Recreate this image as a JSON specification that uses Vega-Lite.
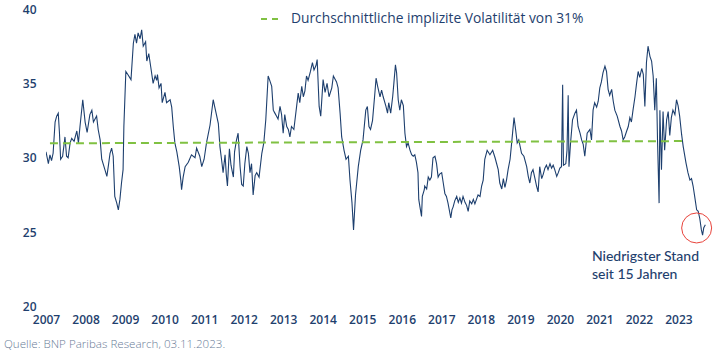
{
  "$schema": "https://vega.github.io/schema/vega-lite/v6.json",
  "width": 672,
  "height": 297.5,
  "autosize": {"type": "none"},
  "padding": {"left": 46, "top": 9, "right": 9, "bottom": 47.5},
  "background": "white",
  "config": {
    "view": {"stroke": null},
    "font": "Open Sans",
    "axis": {"grid": false, "domain": false, "ticks": false, "labelFont": "Open Sans", "labelFontSize": 12, "labelFontWeight": 600, "labelColor": "#1f3f6e", "title": null}
  },
  "title": {"text": "Quelle: BNP Paribas Research, 03.11.2023.", "orient": "bottom", "anchor": "start", "frame": "group", "dx": -42, "offset": 13, "fontSize": 11.6, "fontWeight": 300, "color": "#6a7d98", "font": "Open Sans"},
  "datasets": {
    "vol": [
      {"t":2007.00,"v":30.4},{"t":2007.06,"v":29.6},{"t":2007.10,"v":30.2},{"t":2007.14,"v":29.8},{"t":2007.18,"v":30.3},{"t":2007.23,"v":32.4},{"t":2007.27,"v":32.8},{"t":2007.31,"v":33.0},{"t":2007.34,"v":31.7},{"t":2007.37,"v":29.9},
      {"t":2007.42,"v":30.1},{"t":2007.48,"v":31.4},{"t":2007.52,"v":30.1},{"t":2007.56,"v":30.0},{"t":2007.61,"v":31.0},{"t":2007.65,"v":31.3},{"t":2007.71,"v":31.1},{"t":2007.78,"v":31.8},{"t":2007.82,"v":31.0},{"t":2007.86,"v":32.1},
      {"t":2007.93,"v":33.9},{"t":2007.99,"v":32.4},{"t":2008.04,"v":31.7},{"t":2008.11,"v":32.9},{"t":2008.16,"v":33.2},{"t":2008.20,"v":32.4},{"t":2008.28,"v":32.8},{"t":2008.32,"v":31.9},{"t":2008.37,"v":31.2},{"t":2008.41,"v":29.9},
      {"t":2008.49,"v":29.2},{"t":2008.54,"v":28.75},{"t":2008.58,"v":29.5},{"t":2008.62,"v":30.3},{"t":2008.66,"v":30.65},{"t":2008.70,"v":30.1},{"t":2008.74,"v":27.4},{"t":2008.79,"v":26.95},{"t":2008.83,"v":26.5},{"t":2008.87,"v":27.2},
      {"t":2008.91,"v":28.3},{"t":2008.95,"v":29.2},{"t":2008.97,"v":32.1},{"t":2009.02,"v":35.8},{"t":2009.07,"v":35.6},{"t":2009.15,"v":35.25},{"t":2009.21,"v":37.7},{"t":2009.25,"v":38.3},{"t":2009.29,"v":37.7},{"t":2009.33,"v":38.4},
      {"t":2009.38,"v":38.0},{"t":2009.42,"v":38.6},{"t":2009.46,"v":37.5},{"t":2009.52,"v":37.8},{"t":2009.55,"v":36.5},{"t":2009.60,"v":37.0},{"t":2009.65,"v":36.1},{"t":2009.71,"v":35.0},{"t":2009.76,"v":35.5},{"t":2009.80,"v":35.2},
      {"t":2009.82,"v":35.6},{"t":2009.86,"v":34.7},{"t":2009.91,"v":35.0},{"t":2009.94,"v":33.7},{"t":2010.01,"v":34.4},{"t":2010.05,"v":33.7},{"t":2010.14,"v":33.9},{"t":2010.18,"v":33.4},{"t":2010.22,"v":32.1},{"t":2010.26,"v":31.0},
      {"t":2010.31,"v":30.4},{"t":2010.37,"v":29.4},{"t":2010.41,"v":28.5},{"t":2010.43,"v":27.85},{"t":2010.47,"v":28.7},{"t":2010.52,"v":29.4},{"t":2010.60,"v":29.7},{"t":2010.68,"v":30.2},{"t":2010.77,"v":30.0},{"t":2010.81,"v":30.65},
      {"t":2010.89,"v":30.1},{"t":2010.94,"v":29.4},{"t":2011.00,"v":29.9},{"t":2011.06,"v":31.0},{"t":2011.15,"v":32.2},{"t":2011.23,"v":33.9},{"t":2011.27,"v":33.4},{"t":2011.36,"v":32.3},{"t":2011.40,"v":30.75},{"t":2011.44,"v":29.9},
      {"t":2011.48,"v":29.0},{"t":2011.53,"v":30.2},{"t":2011.56,"v":28.9},{"t":2011.59,"v":28.1},{"t":2011.64,"v":30.6},{"t":2011.68,"v":29.5},{"t":2011.74,"v":28.7},{"t":2011.77,"v":30.4},{"t":2011.82,"v":31.2},{"t":2011.86,"v":31.65},
      {"t":2011.91,"v":29.4},{"t":2011.95,"v":28.2},{"t":2011.99,"v":28.1},{"t":2012.03,"v":29.6},{"t":2012.08,"v":30.75},{"t":2012.12,"v":30.3},{"t":2012.16,"v":29.0},{"t":2012.20,"v":29.6},{"t":2012.24,"v":27.5},{"t":2012.29,"v":28.8},
      {"t":2012.33,"v":29.0},{"t":2012.39,"v":28.7},{"t":2012.46,"v":30.3},{"t":2012.51,"v":31.0},{"t":2012.56,"v":32.55},{"t":2012.62,"v":35.5},{"t":2012.66,"v":35.2},{"t":2012.71,"v":34.8},{"t":2012.75,"v":33.2},{"t":2012.79,"v":33.0},
      {"t":2012.83,"v":32.8},{"t":2012.87,"v":32.6},{"t":2012.92,"v":33.45},{"t":2012.96,"v":32.9},{"t":2013.00,"v":31.65},{"t":2013.04,"v":32.9},{"t":2013.09,"v":32.1},{"t":2013.13,"v":31.9},{"t":2013.17,"v":31.4},{"t":2013.21,"v":32.1},
      {"t":2013.27,"v":31.9},{"t":2013.34,"v":33.45},{"t":2013.38,"v":34.35},{"t":2013.42,"v":33.7},{"t":2013.47,"v":34.8},{"t":2013.51,"v":34.1},{"t":2013.55,"v":34.5},{"t":2013.59,"v":35.5},{"t":2013.63,"v":35.2},{"t":2013.69,"v":35.8},
      {"t":2013.74,"v":36.4},{"t":2013.78,"v":35.9},{"t":2013.83,"v":36.2},{"t":2013.86,"v":36.6},{"t":2013.91,"v":33.45},{"t":2013.95,"v":32.8},{"t":2014.01,"v":35.25},{"t":2014.06,"v":34.4},{"t":2014.11,"v":35.0},{"t":2014.16,"v":34.1},
      {"t":2014.23,"v":34.7},{"t":2014.27,"v":35.5},{"t":2014.31,"v":35.3},{"t":2014.35,"v":35.1},{"t":2014.39,"v":34.7},{"t":2014.44,"v":33.0},{"t":2014.48,"v":31.4},{"t":2014.54,"v":30.5},{"t":2014.59,"v":29.9},{"t":2014.65,"v":30.1},
      {"t":2014.69,"v":28.5},{"t":2014.74,"v":27.0},{"t":2014.78,"v":25.15},{"t":2014.83,"v":27.5},{"t":2014.90,"v":29.4},{"t":2014.96,"v":30.5},{"t":2015.02,"v":31.2},{"t":2015.09,"v":33.2},{"t":2015.13,"v":33.45},{"t":2015.17,"v":32.1},
      {"t":2015.21,"v":31.9},{"t":2015.26,"v":32.5},{"t":2015.32,"v":34.35},{"t":2015.35,"v":35.35},{"t":2015.39,"v":34.8},{"t":2015.45,"v":34.1},{"t":2015.49,"v":34.55},{"t":2015.53,"v":34.1},{"t":2015.60,"v":33.45},{"t":2015.64,"v":33.0},
      {"t":2015.67,"v":33.7},{"t":2015.72,"v":33.0},{"t":2015.77,"v":34.1},{"t":2015.80,"v":35.0},{"t":2015.84,"v":36.25},{"t":2015.87,"v":35.7},{"t":2015.91,"v":33.9},{"t":2015.95,"v":33.2},{"t":2015.99,"v":33.9},{"t":2016.04,"v":33.5},
      {"t":2016.08,"v":31.65},{"t":2016.12,"v":30.75},{"t":2016.16,"v":31.0},{"t":2016.21,"v":30.5},{"t":2016.25,"v":30.2},{"t":2016.29,"v":30.1},{"t":2016.33,"v":30.2},{"t":2016.37,"v":29.7},{"t":2016.41,"v":29.0},{"t":2016.43,"v":27.2},
      {"t":2016.46,"v":26.7},{"t":2016.50,"v":26.05},{"t":2016.52,"v":27.4},{"t":2016.57,"v":27.85},{"t":2016.58,"v":28.1},{"t":2016.63,"v":27.9},{"t":2016.67,"v":28.7},{"t":2016.71,"v":28.5},{"t":2016.75,"v":28.7},{"t":2016.79,"v":30.0},
      {"t":2016.84,"v":30.1},{"t":2016.88,"v":29.6},{"t":2016.92,"v":28.7},{"t":2016.96,"v":28.9},{"t":2017.01,"v":29.0},{"t":2017.05,"v":28.3},{"t":2017.09,"v":27.6},{"t":2017.13,"v":27.4},{"t":2017.17,"v":26.95},{"t":2017.24,"v":25.95},
      {"t":2017.27,"v":26.5},{"t":2017.30,"v":26.7},{"t":2017.34,"v":27.1},{"t":2017.39,"v":27.4},{"t":2017.43,"v":27.0},{"t":2017.47,"v":27.3},{"t":2017.51,"v":26.95},{"t":2017.55,"v":27.4},{"t":2017.60,"v":27.0},{"t":2017.64,"v":26.8},
      {"t":2017.68,"v":26.4},{"t":2017.72,"v":27.1},{"t":2017.77,"v":26.9},{"t":2017.81,"v":27.2},{"t":2017.85,"v":26.9},{"t":2017.89,"v":27.2},{"t":2017.93,"v":27.5},{"t":2017.98,"v":27.4},{"t":2018.02,"v":28.1},{"t":2018.06,"v":28.5},
      {"t":2018.10,"v":29.9},{"t":2018.16,"v":30.5},{"t":2018.23,"v":30.2},{"t":2018.30,"v":30.5},{"t":2018.36,"v":30.0},{"t":2018.44,"v":29.2},{"t":2018.48,"v":28.3},{"t":2018.53,"v":27.9},{"t":2018.57,"v":28.6},{"t":2018.61,"v":28.0},
      {"t":2018.65,"v":28.5},{"t":2018.69,"v":29.2},{"t":2018.74,"v":29.9},{"t":2018.78,"v":31.0},{"t":2018.84,"v":32.7},{"t":2018.88,"v":31.9},{"t":2018.92,"v":31.0},{"t":2018.96,"v":31.2},{"t":2019.03,"v":30.3},{"t":2019.09,"v":30.1},
      {"t":2019.16,"v":29.4},{"t":2019.20,"v":28.75},{"t":2019.24,"v":28.3},{"t":2019.28,"v":29.0},{"t":2019.32,"v":29.2},{"t":2019.37,"v":28.6},{"t":2019.41,"v":28.1},{"t":2019.45,"v":27.7},{"t":2019.49,"v":29.4},{"t":2019.54,"v":28.6},
      {"t":2019.58,"v":28.9},{"t":2019.62,"v":29.3},{"t":2019.66,"v":29.5},{"t":2019.70,"v":29.2},{"t":2019.75,"v":29.6},{"t":2019.79,"v":29.3},{"t":2019.83,"v":29.5},{"t":2019.87,"v":29.2},{"t":2019.92,"v":28.75},{"t":2019.96,"v":29.0},
      {"t":2020.00,"v":29.3},{"t":2020.04,"v":29.4},{"t":2020.07,"v":34.9},{"t":2020.09,"v":29.5},{"t":2020.15,"v":29.6},{"t":2020.18,"v":30.5},{"t":2020.21,"v":34.2},{"t":2020.23,"v":29.4},{"t":2020.27,"v":31.0},{"t":2020.32,"v":32.55},
      {"t":2020.38,"v":33.0},{"t":2020.42,"v":33.2},{"t":2020.46,"v":32.1},{"t":2020.51,"v":31.65},{"t":2020.55,"v":31.2},{"t":2020.59,"v":30.9},{"t":2020.63,"v":30.1},{"t":2020.69,"v":31.65},{"t":2020.76,"v":31.9},{"t":2020.80,"v":31.2},
      {"t":2020.84,"v":33.2},{"t":2020.88,"v":33.7},{"t":2020.93,"v":33.4},{"t":2020.97,"v":33.8},{"t":2021.01,"v":34.7},{"t":2021.05,"v":35.1},{"t":2021.09,"v":35.7},{"t":2021.14,"v":36.15},{"t":2021.18,"v":35.8},{"t":2021.22,"v":34.6},
      {"t":2021.26,"v":34.2},{"t":2021.31,"v":34.6},{"t":2021.35,"v":33.8},{"t":2021.39,"v":33.2},{"t":2021.45,"v":32.8},{"t":2021.52,"v":32.1},{"t":2021.56,"v":31.8},{"t":2021.60,"v":31.2},{"t":2021.64,"v":31.4},{"t":2021.69,"v":31.8},
      {"t":2021.73,"v":32.1},{"t":2021.77,"v":32.7},{"t":2021.81,"v":32.4},{"t":2021.85,"v":33.2},{"t":2021.90,"v":34.1},{"t":2021.94,"v":35.0},{"t":2021.98,"v":35.8},{"t":2022.02,"v":35.4},{"t":2022.07,"v":36.0},{"t":2022.11,"v":35.6},
      {"t":2022.15,"v":33.45},{"t":2022.19,"v":36.4},{"t":2022.23,"v":37.5},{"t":2022.28,"v":36.8},{"t":2022.32,"v":36.5},{"t":2022.36,"v":35.5},{"t":2022.40,"v":33.2},{"t":2022.44,"v":35.35},{"t":2022.47,"v":31.2},{"t":2022.51,"v":26.95},
      {"t":2022.53,"v":33.2},{"t":2022.57,"v":29.2},{"t":2022.61,"v":33.1},{"t":2022.65,"v":30.5},{"t":2022.70,"v":32.55},{"t":2022.74,"v":33.1},{"t":2022.78,"v":31.5},{"t":2022.82,"v":32.7},{"t":2022.86,"v":33.2},{"t":2022.91,"v":32.9},
      {"t":2022.95,"v":33.9},{"t":2022.99,"v":33.5},{"t":2023.03,"v":32.8},{"t":2023.08,"v":31.55},{"t":2023.12,"v":30.75},{"t":2023.19,"v":29.65},{"t":2023.24,"v":29.0},{"t":2023.29,"v":28.5},{"t":2023.33,"v":28.6},{"t":2023.37,"v":28.1},
      {"t":2023.41,"v":27.4},{"t":2023.46,"v":26.5},{"t":2023.50,"v":26.4},{"t":2023.54,"v":25.9},{"t":2023.58,"v":25.15},{"t":2023.61,"v":24.8},{"t":2023.64,"v":25.3},{"t":2023.68,"v":25.5}
    ],
    "avg": [
      {"t": 2007.1, "v": 30.97, "s": "Durchschnittliche implizite Volatilität von 31%"},
      {"t": 2023.1, "v": 31.12, "s": "Durchschnittliche implizite Volatilität von 31%"}
    ],
    "note": [
      {"t": 2020.81, "v": 23.03, "label": "Niedrigster Stand"},
      {"t": 2020.81, "v": 21.88, "label": "seit 15 Jahren"}
    ],
    "circle": [
      {"t": 2023.46, "v": 25.28}
    ]
  },
  "layer": [
    {
      "data": {"name": "vol"},
      "mark": {"type": "line", "color": "#1d3f6e", "strokeWidth": 1.1, "clip": true},
      "encoding": {
        "x": {"field": "t", "type": "quantitative", "scale": {"domain": [2007, 2024], "nice": false, "zero": false},
              "axis": {"values": [2007,2008,2009,2010,2011,2012,2013,2014,2015,2016,2017,2018,2019,2020,2021,2022,2023], "format": "d", "labelPadding": 8, "labelFlush": false}},
        "y": {"field": "v", "type": "quantitative", "scale": {"domain": [20, 40], "nice": false, "zero": false},
              "axis": {"values": [20,25,30,35,40], "labelPadding": 10}}
      }
    },
    {
      "data": {"name": "avg"},
      "mark": {"type": "line", "strokeWidth": 2, "strokeDash": [8, 5]},
      "encoding": {
        "x": {"field": "t", "type": "quantitative"},
        "y": {"field": "v", "type": "quantitative"},
        "color": {"field": "s", "type": "nominal", "scale": {"range": ["#80c142"]},
                  "legend": {"title": null, "orient": "none", "legendX": 214, "legendY": 0, "symbolType": "stroke", "symbolSize": 324, "symbolStrokeWidth": 2, "symbolDash": [6, 5], "labelFontSize": 13.8, "labelFont": "Open Sans", "labelFontWeight": 500, "labelColor": "#1f3f6e", "labelOffset": 11, "padding": 0, "labelLimit": 500}}
      }
    },
    {
      "data": {"name": "note"},
      "mark": {"type": "text", "align": "left", "baseline": "alphabetic", "fontSize": 14, "fontWeight": 500, "color": "#1f3f6e", "font": "Lato"},
      "encoding": {
        "x": {"field": "t", "type": "quantitative"},
        "y": {"field": "v", "type": "quantitative"},
        "text": {"field": "label"}
      }
    },
    {
      "data": {"name": "circle"},
      "mark": {"type": "point", "shape": "circle", "filled": false, "stroke": "#e8433b", "strokeWidth": 1, "size": 900, "opacity": 1},
      "encoding": {
        "x": {"field": "t", "type": "quantitative"},
        "y": {"field": "v", "type": "quantitative"}
      }
    }
  ]
}
